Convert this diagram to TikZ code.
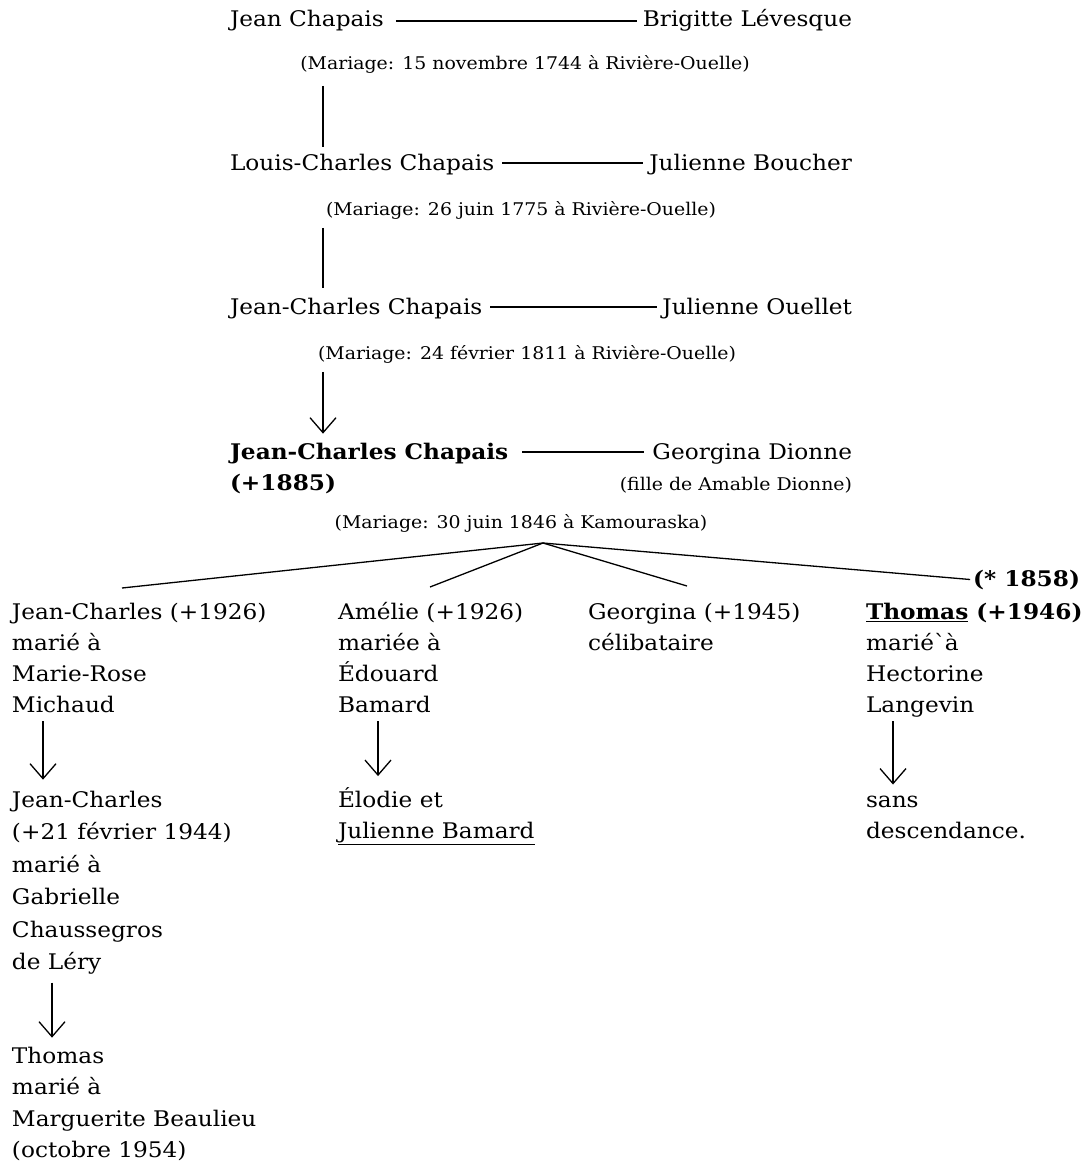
\documentclass[tikz,border=0pt]{standalone}
\usepackage{fontspec}
\setmainfont{DejaVu Serif}[FakeStretch=1.08]
\usetikzlibrary{arrows.meta,calc}

\begin{document}
\begin{tikzpicture}[x=1pt,y=-1pt,
  every node/.style={inner sep=0pt,outer sep=0pt},
  main/.style={font=\fontsize{21.5}{31}\selectfont},
  note/.style={font=\fontsize{17.5}{31}\selectfont},
  % multi-line nodes: the base anchor sits on the last line
  block/.style={main,align=left,anchor=base west},
  link/.style={line width=1.3pt},
  descent/.style={line width=1.5pt},
  arrowdown/.style={line width=1.3pt,-{Straight Barb[length=15pt,width=26pt]}},
  branch/.style={line width=1.3pt}]
\useasboundingbox (0,0) rectangle (1083,1164);

% generation 1
\node[main,anchor=base west] (g1a) at (230,27) {Jean Chapais};
\node[main,anchor=base east] (g1b) at (852,27) {Brigitte Lévesque};
\node[note,anchor=base] (m1) at (525,70) {(Mariage: 15 novembre 1744 à Rivière-Ouelle)};
\draw[link] ([xshift=12pt,yshift=6pt]g1a.base east) -- ([xshift=-6pt,yshift=6pt]g1b.base west);

% generation 2
\node[main,anchor=base west] (g2a) at (230,170) {Louis-Charles Chapais};
\node[main,anchor=base east] (g2b) at (852,170) {Julienne Boucher};
\node[note,anchor=base] (m2) at (521,215) {(Mariage: 26 juin 1775 à Rivière-Ouelle)};
\draw[link] ([xshift=8pt,yshift=7pt]g2a.base east) -- ([xshift=-6pt,yshift=7pt]g2b.base west);
\coordinate (x1) at (323,0);
\draw[descent] (m1.south -| x1) ++(0,12) -- ([yshift=7pt]g2a.north -| x1);

% generation 3
\node[main,anchor=base west] (g3a) at (230,314) {Jean-Charles Chapais};
\node[main,anchor=base east] (g3b) at (852,314) {Julienne Ouellet};
\node[note,anchor=base] (m3) at (527,359) {(Mariage: 24 février 1811 à Rivière-Ouelle)};
\draw[link] ([xshift=8pt,yshift=7pt]g3a.base east) -- ([xshift=-5pt,yshift=7pt]g3b.base west);
\draw[descent] (m2.south -| x1) ++(0,9) -- ([yshift=10pt]g3a.north -| x1);

% generation 4
\node[main,font=\fontsize{21.5}{31}\selectfont\bfseries,align=left,anchor=base west] (g4a) at (230,490) {Jean-Charles Chapais\\(+1885)};
\node[main,anchor=base east] (g4b) at (852,459) {Georgina Dionne};
\node[note,anchor=base east] (g4c) at (852,490) {(fille de Amable Dionne)};
\node[note,anchor=base] (m4) at (521,528) {(Mariage: 30 juin 1846 à Kamouraska)};
\draw[link] (522,452) -- ([xshift=-8pt,yshift=7pt]g4b.base west);
\draw[arrowdown] (m3.south -| x1) ++(0,9) -- ([yshift=9pt]g4a.north -| x1);

% children
\coordinate (apex) at (543,543);
\node[block] (c1) at (12,712) {Jean-Charles (+1926)\\marié à\\Marie-Rose\\Michaud};
\node[block] (c2) at (338,712) {Amélie (+1926)\\mariée à\\Édouard\\Bamard};
\node[block] (c3) at (588,650) {Georgina (+1945)\\célibataire};
\node[main,font=\fontsize{21.5}{31}\selectfont\bfseries,anchor=base east] (c4b) at (1080,586) {(* 1858)};
\node[block] (c4) at (866,712) {\textbf{\underline{Thomas} (+1946)}\\marié\textasciigrave à\\Hectorine\\Langevin};

\draw[branch] (apex) -- (122,588);
\draw[branch] (apex) -- (430,587);
\draw[branch] (apex) -- (687,586);
\draw[branch] (apex) -- ([xshift=-3pt]c4b.west);

% grandchildren
\node[block,font=\fontsize{21.5}{32.5}\selectfont] (d1) at (12,969.5) {Jean-Charles\\(+21 février 1944)\\marié à\\Gabrielle\\Chaussegros\\de Léry};
\node[block] (d2) at (338,838) {Élodie et\\\underline{Julienne Bamard}};
\node[block] (d4) at (866,838) {sans\\descendance.};
\node[block,font=\fontsize{21.5}{31.5}\selectfont] (e1) at (12,1157.5) {Thomas\\marié à\\Marguerite Beaulieu\\(octobre 1954)};

\draw[arrowdown] ([xshift=31pt,yshift=-9pt]c1.base west) -- ([xshift=31pt,yshift=11pt]d1.north west);
\draw[arrowdown] ([xshift=40pt,yshift=-9pt]c2.base west) -- ([xshift=40pt,yshift=11pt]d2.north west);
\draw[arrowdown] ([xshift=27pt,yshift=-9pt]c4.base west) -- ([xshift=27pt,yshift=11pt]d4.north west);
\draw[arrowdown] ([xshift=40pt,yshift=-13pt]d1.base west) -- ([xshift=40pt,yshift=9pt]e1.north west);
\end{tikzpicture}
\end{document}
